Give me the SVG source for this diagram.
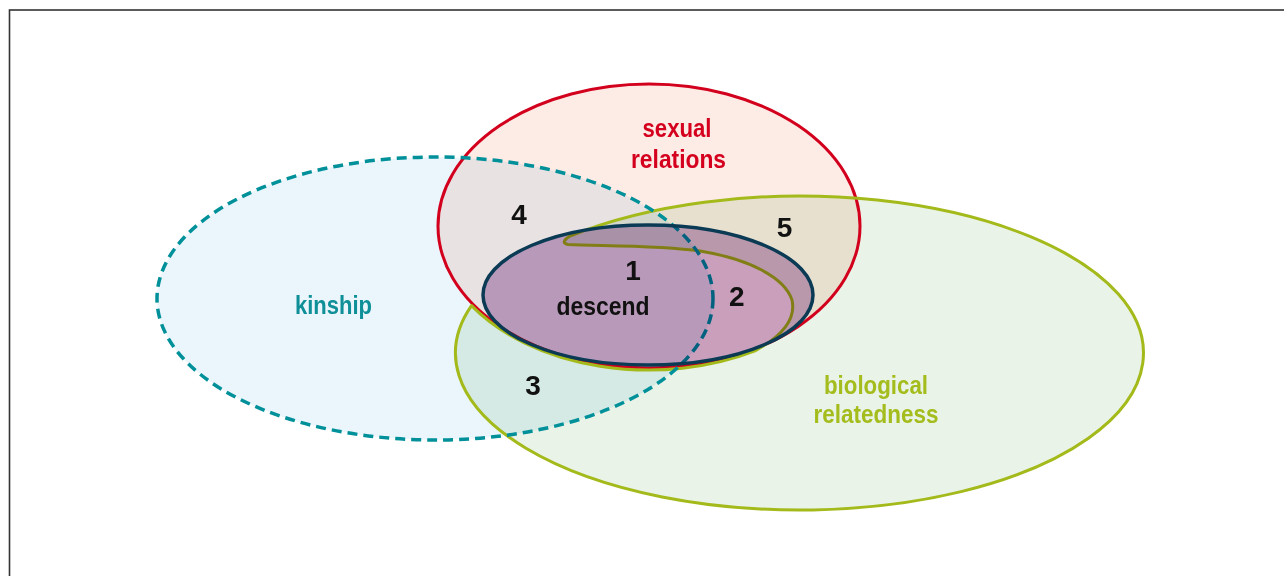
<svg xmlns="http://www.w3.org/2000/svg" width="1284" height="576" viewBox="0 0 1284 576">
<style>
.fill{mix-blend-mode:multiply;stroke:none}
.lbl{font-family:"Liberation Sans",Arial,sans-serif;font-weight:bold;text-anchor:middle}
.word{font-size:25px}
.num{font-size:28px;fill:#111}
</style>
<rect x="0" y="0" width="1284" height="576" fill="#ffffff"/>
<rect id="frame" x="9.5" y="10" width="1300" height="600" fill="none" stroke="#333333" stroke-width="1.6"/>
<g id="fills">
<ellipse id="kinship-fill" class="fill" cx="435" cy="298.5" rx="278" ry="141.5" fill="#eaf6fc"/>
<ellipse id="sexual-fill" class="fill" cx="649" cy="226" rx="211" ry="142" fill="#fdebe5"/>
<path id="bio-fill" class="fill" fill="#e9f3e7" d="M 471.5,305.65 A 344 157 0 1 0 570,236.05 C 565,239 561,243 568,244.5 C 600,246 660,245 700,251 C 750,259 785,278 792,300 C 796,318 784,335 755,350.9 A 213 144 0 0 1 471.5,305.65 Z"/>
</g>
<g id="sexual-relations">
<ellipse cx="649" cy="226" rx="211" ry="142" fill="none" stroke="#d3001d" stroke-width="3"/>
<text class="lbl word" x="677" y="137" fill="#d4001e" textLength="69" lengthAdjust="spacingAndGlyphs">sexual</text>
<text class="lbl word" x="678.5" y="168" fill="#d4001e" textLength="95" lengthAdjust="spacingAndGlyphs">relations</text>
</g>
<g id="biological-relatedness">
<path fill="none" stroke="#a3ba1a" stroke-width="3" stroke-linejoin="round" d="M 471.5,305.65 A 344 157 0 1 0 570,236.05 C 565,239 561,243 568,244.5 C 600,246 660,245 700,251 C 750,259 785,278 792,300 C 796,318 784,335 755,350.9 A 213 144 0 0 1 471.5,305.65 Z"/>
<text class="lbl word" x="876" y="394" fill="#a4bc1c" textLength="104" lengthAdjust="spacingAndGlyphs">biological</text>
<text class="lbl word" x="876" y="423" fill="#a4bc1c" textLength="125" lengthAdjust="spacingAndGlyphs">relatedness</text>
</g>
<g id="kinship">
<ellipse cx="435" cy="298.5" rx="278" ry="141.5" fill="none" stroke="#00909a" stroke-width="3.5" stroke-dasharray="10 6"/>
<text class="lbl word" x="333.5" y="314" fill="#0f8f98" textLength="77" lengthAdjust="spacingAndGlyphs">kinship</text>
</g>
<g id="descend">
<ellipse class="fill" cx="648" cy="295" rx="165" ry="70" fill="#cbadd2"/>
<ellipse cx="648" cy="295" rx="165" ry="70" fill="none" stroke="#0b3a55" stroke-width="3.5"/>
<text class="lbl word" x="603" y="315" fill="#111" textLength="93" lengthAdjust="spacingAndGlyphs">descend</text>
</g>
<g id="numbers">
<text class="lbl num" x="633" y="280">1</text>
<text class="lbl num" x="736.7" y="306">2</text>
<text class="lbl num" x="533" y="395">3</text>
<text class="lbl num" x="519" y="224">4</text>
<text class="lbl num" x="784.5" y="237">5</text>
</g>
</svg>
